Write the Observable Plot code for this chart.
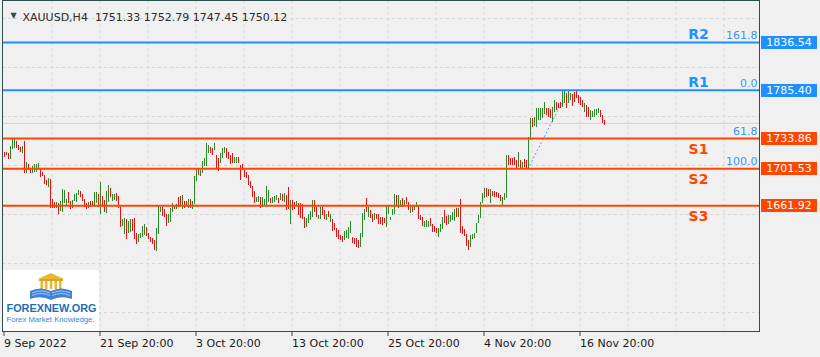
<!DOCTYPE html>
<html><head><meta charset="utf-8">
<script src="https://cdn.jsdelivr.net/npm/d3@7"></script>
<script src="https://cdn.jsdelivr.net/npm/@observablehq/plot@0.6"></script>
<style>
html,body{margin:0;padding:0;background:#f0f0f0;}
#wrap{position:relative;width:820px;height:357px;overflow:hidden;}
#logo{position:absolute;left:3px;top:270px;}
</style></head><body><div id="wrap"></div>
<script>
const symbolName = "XAUUSD,H4";
const lastOHLC = [1751.33, 1752.79, 1747.45, 1750.12];

const highs = [
1719.2,1719.2,1717.5,1725.3,1732.8,1733.6,1730.7,1726.4,1724.6,1725.7,
1731.0,1708.5,1705.8,1702.1,1704.3,1705.8,1705.8,1706.8,1700.7,1697.9,
1694.3,1689.0,1690.8,1690.0,1668.3,1665.8,1665.8,1664.7,1666.8,1679.4,
1678.3,1668.3,1676.5,1666.5,1667.6,1674.3,1675.4,1678.3,1677.2,1674.3,
1668.3,1664.7,1665.1,1666.5,1666.2,1675.8,1676.1,1674.0,1686.8,1671.9,
1667.6,1677.5,1683.3,1680.7,1674.0,1674.0,1675.4,1671.9,1660.4,1647.3,
1648.0,1647.3,1644.8,1647.6,1647.3,1648.0,1632.0,1631.2,1632.0,1639.5,
1641.6,1639.0,1632.0,1628.4,1627.0,1624.8,1637.7,1661.2,1660.4,1659.8,
1657.7,1652.3,1652.3,1659.4,1664.4,1660.9,1663.3,1671.1,1671.9,1672.9,
1666.8,1666.5,1668.3,1668.7,1666.5,1693.3,1701.5,1701.5,1699.7,1709.3,
1712.8,1728.2,1726.4,1724.6,1722.9,1728.2,1715.7,1712.2,1718.2,1722.9,
1723.9,1722.9,1718.6,1715.7,1717.5,1713.9,1713.2,1713.9,1705.0,1705.8,
1699.7,1697.9,1694.3,1687.9,1682.6,1677.5,1671.1,1671.9,1670.5,1670.8,
1668.3,1682.6,1678.6,1670.0,1671.1,1671.9,1672.6,1670.0,1674.8,1674.0,
1674.8,1672.9,1681.8,1667.6,1667.6,1665.1,1666.5,1664.1,1664.1,1663.0,
1649.7,1648.6,1652.3,1656.2,1667.6,1667.6,1660.4,1651.6,1660.4,1660.4,
1656.9,1652.6,1656.2,1652.6,1647.0,1642.7,1637.3,1635.5,1630.2,1629.1,
1634.4,1635.5,1639.0,1645.1,1628.4,1627.3,1626.6,1624.8,1632.6,1653.4,
1657.7,1669.4,1659.8,1656.9,1652.3,1653.4,1652.6,1652.3,1649.7,1649.1,
1648.0,1661.5,1661.2,1649.7,1657.7,1673.7,1672.9,1672.9,1667.6,1669.4,
1667.6,1671.1,1665.1,1660.4,1662.2,1662.2,1665.8,1661.2,1651.6,1649.7,
1645.4,1646.2,1645.1,1648.6,1641.6,1639.8,1638.0,1637.3,1641.6,1649.7,
1656.9,1650.5,1651.6,1651.6,1655.1,1657.7,1658.7,1658.7,1668.7,1639.8,
1636.3,1630.9,1624.8,1630.2,1630.9,1632.6,1642.7,1651.6,1665.8,1674.8,
1680.1,1680.1,1679.4,1679.0,1677.5,1677.2,1676.5,1674.8,1672.9,1671.1,
1674.8,1715.7,1715.7,1712.2,1712.2,1713.9,1710.4,1719.2,1710.4,1708.5,
1711.4,1710.4,1735.3,1755.0,1755.0,1756.7,1765.6,1765.6,1765.6,1765.6,
1772.7,1765.6,1765.6,1764.9,1767.4,1774.5,1772.7,1771.0,1772.1,1784.9,
1784.5,1781.7,1785.4,1781.7,1780.6,1783.4,1784.5,1779.9,1778.1,1774.5,
1771.0,1769.2,1767.4,1763.8,1762.8,1764.9,1764.9,1766.3,1763.8,1758.5,1752.79
];
const lows = [
1713.2,1715.7,1711.1,1711.1,1721.8,1722.9,1722.9,1721.1,1718.6,1717.9,
1696.1,1696.1,1699.7,1696.8,1696.1,1697.2,1697.9,1699.7,1692.5,1693.3,
1684.7,1683.6,1681.2,1658.7,1659.4,1659.4,1659.4,1652.3,1656.2,1655.1,
1664.1,1661.5,1664.7,1658.3,1659.4,1666.5,1665.8,1672.9,1671.1,1666.5,
1660.4,1658.0,1659.4,1660.4,1661.2,1660.4,1664.1,1659.8,1652.3,1659.8,
1655.1,1654.0,1665.8,1671.1,1666.2,1667.6,1666.8,1659.4,1639.0,1639.8,
1630.9,1625.6,1632.0,1633.7,1634.4,1625.6,1620.2,1622.7,1626.6,1628.4,
1630.2,1629.1,1625.9,1623.0,1620.5,1614.1,1613.4,1631.2,1655.1,1650.5,
1649.1,1639.8,1642.7,1644.4,1654.4,1658.0,1658.3,1660.4,1661.2,1657.7,
1659.4,1662.2,1659.4,1659.4,1658.3,1663.0,1688.2,1694.3,1693.3,1696.1,
1704.3,1704.0,1717.5,1717.5,1715.7,1721.1,1700.4,1698.9,1706.8,1712.2,
1717.5,1712.2,1711.1,1705.8,1706.8,1707.5,1706.8,1706.8,1689.0,1699.7,
1692.5,1690.8,1683.6,1680.1,1671.1,1664.1,1665.1,1665.8,1658.7,1659.8,
1661.2,1661.2,1665.8,1664.1,1664.4,1665.8,1667.6,1664.7,1667.6,1666.5,
1665.8,1656.9,1657.7,1641.6,1656.9,1657.7,1661.2,1651.6,1648.0,1647.0,
1637.3,1639.0,1642.7,1646.2,1649.7,1655.1,1649.7,1647.0,1647.0,1651.6,
1647.0,1646.2,1649.1,1644.4,1634.4,1635.5,1628.4,1625.6,1624.8,1623.0,
1624.8,1626.6,1625.9,1632.0,1621.3,1620.5,1617.7,1615.9,1617.7,1627.7,
1646.2,1655.1,1649.7,1648.0,1644.4,1646.2,1647.0,1641.9,1641.6,1640.5,
1642.7,1638.4,1652.6,1646.2,1651.6,1652.3,1661.9,1658.7,1659.8,1659.8,
1661.2,1663.0,1656.9,1654.0,1655.1,1656.9,1659.8,1647.0,1646.2,1639.8,
1639.0,1639.0,1639.0,1639.8,1633.7,1633.7,1632.0,1628.4,1633.7,1636.3,
1642.7,1640.9,1641.9,1644.4,1646.2,1645.1,1649.7,1649.7,1632.0,1630.9,
1629.1,1618.4,1614.1,1617.7,1625.6,1626.6,1632.0,1642.7,1648.6,1664.7,
1669.4,1671.1,1671.9,1664.7,1671.9,1671.1,1670.5,1669.4,1666.5,1661.5,
1667.6,1669.4,1705.0,1705.0,1705.0,1705.0,1701.5,1703.2,1701.5,1701.5,
1703.2,1701.5,1701.53,1731.7,1746.0,1747.0,1746.0,1753.1,1753.1,1755.0,
1759.2,1758.5,1756.7,1755.0,1751.3,1762.0,1763.8,1765.6,1765.6,1767.4,
1771.0,1765.6,1771.0,1774.5,1768.4,1772.7,1776.3,1771.0,1769.2,1767.4,
1762.0,1756.7,1756.7,1753.1,1756.0,1756.7,1758.5,1760.3,1756.7,1749.6,1747.45
];
// 1 = bullish bar (close > open), 0 = bearish bar
const dirs = [
0,0,0,1,1,1,0,0,0,1, 0,1,0,0,1,1,1,1,0,0, 0,0,1,0,0,0,1,0,1,1, 1,1,0,0,1,1,1,1,0,0,
0,0,1,0,0,1,1,0,1,0, 0,1,1,0,1,1,0,0,0,1, 1,0,1,1,0,0,0,1,1,1, 1,0,0,0,0,0,1,1,1,0,
0,0,1,1,1,0,1,0,0,1, 0,0,1,0,1,1,1,0,1,1, 1,1,1,0,0,1,0,0,1,1, 1,0,0,0,0,1,1,0,0,0,
0,0,0,0,0,0,1,1,0,1, 1,1,1,0,1,1,1,0,1,0, 1,0,0,1,0,0,1,0,0,0, 0,1,1,1,1,0,0,1,1,0,
0,1,0,1,0,0,0,0,0,0, 1,1,1,1,0,0,0,0,1,1, 1,0,1,0,0,1,0,0,0,0, 0,1,1,1,1,1,0,1,1,0,
1,0,0,1,0,1,1,0,0,0, 1,1,1,0,0,0,0,1,1,1, 0,0,1,1,1,1,0,1,0,0, 0,0,0,1,1,1,1,1,1,1,
1,0,0,1,0,0,0,0,0,1, 1,1,0,0,0,0,0,1,0,1, 0,0,1,1,0,1,1,1,1,1, 1,0,0,0,1,1,0,0,0,1,
1,0,1,1,0,0,0,0,0,0, 1,0,0,1,1,1,1,1,0,0,0
];

const tickBars = [0, 48, 96, 144, 192, 240, 288];
const tickLabels = ["9 Sep 2022", "21 Sep 20:00", "3 Oct 20:00", "13 Oct 20:00", "25 Oct 20:00", "4 Nov 20:00", "16 Nov 20:00"];
const gridBars = [24, 48, 72, 96, 120, 144, 168, 192, 216, 240, 264, 288, 312, 336, 360];
const gridPrices = [1862.2, 1809.8, 1757.4, 1705.0, 1652.6, 1600.2, 1547.8];

const levelNames = ["R2", "R1", "S1", "S2", "S3"];
const levelPrices = [1836.54, 1785.40, 1733.86, 1701.53, 1661.92];
const levelKinds = ["R", "R", "S", "S", "S"];

const fibLabels = ["161.8", "0.0", "61.8", "100.0"];
const fibPrices = [1836.54, 1785.40, 1733.86, 1701.53];
const fibStartBar = 262, fibEndBar = 282;

const xDomain = [-0.75, 377.75];
const yDomain = [1527.52, 1881.45];

const GREEN = "#2a8a2a", RED = "#e21212", BLUE = "#1e90ff", ORANGE = "#ff4500";
const FONT = "'DejaVu Sans', Verdana, sans-serif";

const bars = highs.map((h, i) => ({i, high: h, low: lows[i], col: dirs[i] ? GREEN : RED}));
const levels = levelNames.map((n, k) => ({name: n, price: levelPrices[k], col: levelKinds[k] === "R" ? BLUE : ORANGE, kind: levelKinds[k]}));
const fibs = fibLabels.map((l, k) => ({label: l, price: fibPrices[k]}));
const fibLine = [{x1: fibStartBar, y1: fibPrices[3], x2: fibEndBar, y2: fibPrices[1]}];
const title = [symbolName + "  " + lastOHLC.map(v => v.toFixed(2)).join(" ")];

// price tags on the right scale, positioned through the y scale
function priceTags(index, scales, values, dimensions) {
  const g = d3.create("svg:g");
  const right = dimensions.width - dimensions.marginRight;
  for (const d of levels) {
    const y = Math.round(scales.y(d.price));
    g.append("rect").attr("x", right + 2).attr("y", y - 6).attr("width", 56).attr("height", 13).attr("fill", d.col);
    g.append("text").attr("x", right + 30).attr("y", y + 0.5).attr("dy", "0.35em")
      .attr("text-anchor", "middle").attr("fill", "white").attr("font-size", 11).text(d.price.toFixed(2));
  }
  return g.node();
}

const chart = Plot.plot({
  width: 820, height: 357,
  marginLeft: 2, marginRight: 61, marginTop: 0, marginBottom: 26,
  style: {background: "#f0f0f0", fontFamily: FONT, fontSize: "11px", overflow: "visible"},
  x: {type: "linear", domain: xDomain, axis: null},
  y: {type: "linear", domain: yDomain, axis: null},
  color: {type: "identity"},
  marks: [
    Plot.ruleX(gridBars, {stroke: "#d4d4d4", strokeDasharray: "3,3"}),
    Plot.ruleY(gridPrices, {stroke: "#d4d4d4", strokeDasharray: "3,3"}),
    Plot.ruleY([lastOHLC[3]], {stroke: "#d2d2d2"}),
    Plot.link(fibLine, {x1: "x1", y1: "y1", x2: "x2", y2: "y2", stroke: BLUE, strokeWidth: 1, strokeDasharray: "1.5,2.5"}),
    Plot.ruleX(bars, {x: "i", y1: "low", y2: "high", stroke: "col", strokeWidth: 1, shapeRendering: "crispEdges"}),
    Plot.ruleY(levels, {y: "price", stroke: "col", strokeWidth: 2}),
    Plot.text(fibs, {y: "price", text: "label", frameAnchor: "right", textAnchor: "end", dx: -2, dy: -7, fill: "#3d94f6", fontSize: 11}),
    Plot.text(levels.filter(d => d.kind === "R"), {y: "price", text: "name", frameAnchor: "right", textAnchor: "middle", dx: -61, dy: -8, fill: "col", fontWeight: "bold", fontSize: 14}),
    Plot.text(levels.filter(d => d.kind === "S"), {y: "price", text: "name", frameAnchor: "right", textAnchor: "middle", dx: -61, dy: 11, fill: "col", fontWeight: "bold", fontSize: 14}),
    priceTags,
    Plot.text(title, {frameAnchor: "top-left", dx: 20, dy: 12.5, textAnchor: "start", fill: "#2b2b2b", fontSize: 11}),
    Plot.text(["\u25BC"], {frameAnchor: "top-left", dx: 11, dy: 12, textAnchor: "middle", fill: "#2f4f4f", fontSize: 8}),
    Plot.axisX(tickBars, {tickFormat: d => tickLabels[tickBars.indexOf(d)], tickSize: 5, tickPadding: 3, textAnchor: "start", dx: 0, stroke: "#2f4f4f", fill: "#1a1a1a", fontSize: 11}),
    Plot.frame({stroke: "#2f4f4f"})
  ]
});
document.getElementById("wrap").appendChild(chart);

const logo = document.createElementNS("http://www.w3.org/2000/svg", "svg");
logo.setAttribute("id", "logo");
logo.setAttribute("width", "96");
logo.setAttribute("height", "61");
logo.innerHTML = `
<rect width="96" height="61" fill="#ffffff"/>
<path d="M48 3 L35 9 L61 9 Z" fill="#e8b830"/>
<rect x="36" y="9" width="24" height="2" fill="#d9a520"/>
<rect x="37.5" y="11" width="2.5" height="8" fill="#e8b830"/>
<rect x="42" y="11" width="2.5" height="8" fill="#e8b830"/>
<rect x="46.8" y="11" width="2.5" height="8" fill="#e8b830"/>
<rect x="51.5" y="11" width="2.5" height="8" fill="#e8b830"/>
<rect x="56" y="11" width="2.5" height="8" fill="#e8b830"/>
<path d="M27 21 Q38 16 48 21 Q58 16 69 21 L69 29 Q58 25 48 30 Q38 25 27 29 Z" fill="#3f82d6"/>
<path d="M29 23 Q38 19 47 23 M29 25.5 Q38 21.5 47 25.5 M49 23 Q58 19 67 23 M49 25.5 Q58 21.5 67 25.5" stroke="#bcd6f5" stroke-width="0.8" fill="none"/>
<text x="3.5" y="42" font-family="'Liberation Sans', Arial, sans-serif" font-weight="bold" font-size="11" fill="#1f6db6" textLength="90" lengthAdjust="spacingAndGlyphs">FOREXNEW.ORG</text>
<text x="3.5" y="52" font-family="'Liberation Sans', Arial, sans-serif" font-size="6.5" fill="#3a86d0" textLength="88" lengthAdjust="spacingAndGlyphs">Forex Market Knowledge.</text>`;
document.getElementById("wrap").appendChild(logo);
</script>
</body></html>
